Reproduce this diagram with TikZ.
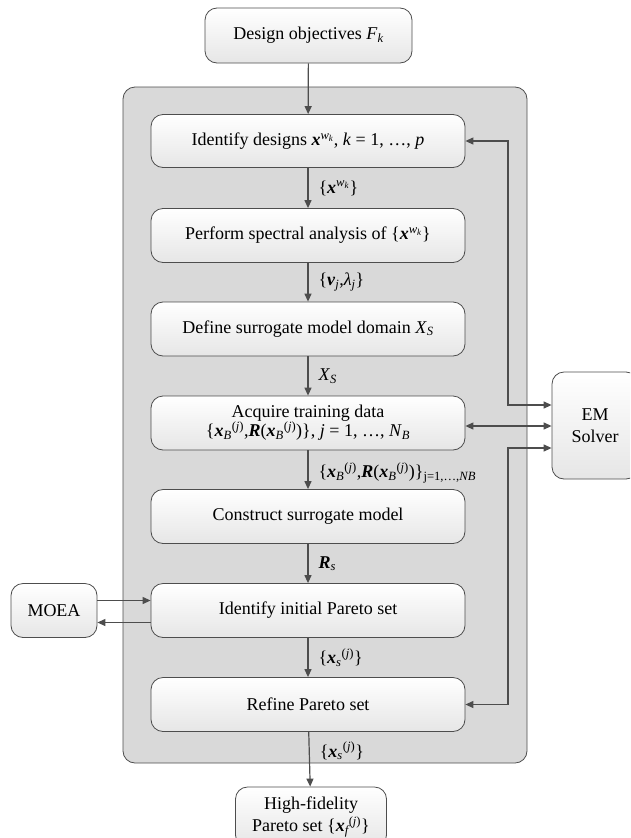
\documentclass[tikz,border=0pt]{standalone}
\usepackage{amsmath}
\usepackage{fontspec}
\setmainfont{Liberation Serif}
\usetikzlibrary{arrows.meta}
\definecolor{linec}{HTML}{4D4D4D}
\definecolor{framefill}{HTML}{D9D9D9}
\definecolor{boxbot}{HTML}{E6E6E6}
\newcommand{\vb}[1]{\textbf{\textit{#1}}}
\newcommand{\vi}[1]{\textit{#1}}
\newcommand{\supj}{{}^{\text{(}\textit{j}\text{)}}}
\tikzset{
  box/.style={draw=linec, line width=0.8pt, rounded corners=12pt, top color=white, bottom color=boxbot,
    align=center, font=\fontsize{18}{21}\selectfont, inner sep=2pt},
  frame/.style={draw=linec, line width=0.8pt, rounded corners=12pt, fill=framefill},
  arr/.style={draw=linec, line width=1.2pt, -{Triangle[length=8pt,width=7pt]}},
  arrboth/.style={draw=linec, line width=1.2pt, {Triangle[length=8pt,width=7pt]}-{Triangle[length=8pt,width=7pt]}},
  lbl/.style={anchor=west, inner sep=0pt, xshift=10pt, font=\fontsize{18}{21}\selectfont}
}
\begin{document}
\begin{tikzpicture}[x=1pt,y=-1pt]
\path[use as bounding box] (0,0) rectangle (630,838);
\clip (0,0) rectangle (630,838);
\node[frame, minimum width=404pt, minimum height=676pt] (frm) at (325,425) {};
\node[box, minimum width=207pt, minimum height=55pt] (des) at (308.5,35.5) {Design objectives \vi{F}$_{\vi{k}}$};
\node[box, minimum width=314pt, minimum height=53pt] (idd) at (308,141) {Identify designs $\vb{x}^{\vi{w}_{\vi{k}}}$, \vi{k} = 1, …, \vi{p}};
\node[box, minimum width=314pt, minimum height=54pt] (perf) at (308,235.5) {Perform spectral analysis of \{$\vb{x}^{\vi{w}_{\vi{k}}}$\}};
\node[box, minimum width=314pt, minimum height=54pt] (def) at (308,329) {Define surrogate model domain \vi{X}$_{\vi{S}}$};
\node[box, minimum width=314pt, minimum height=54pt] (acq) at (308,423) {Acquire training data\\[-2pt]
  \{$\vb{x}_{\vi{B}}\supj$,\vb{R}($\vb{x}_{\vi{B}}\supj$)\}, \vi{j} = 1, …, \vi{N}$_{\vi{B}}$};
\node[box, minimum width=314pt, minimum height=54pt] (cons) at (308,516.5) {Construct surrogate model};
\node[box, minimum width=314pt, minimum height=54pt] (init) at (308,610.5) {Identify initial Pareto set};
\node[box, minimum width=314pt, minimum height=54pt] (ref) at (308,704.5) {Refine Pareto set};
\node[box, minimum width=151pt, minimum height=60pt] (hf) at (311,817) {High-fidelity\\[1pt] Pareto set \{$\vb{x}_{\vi{f}}\supj$\}};
\node[box, minimum width=86pt, minimum height=54pt] (moea) at (54,610.5) {MOEA};
\node[box, minimum width=86pt, minimum height=107pt] (em) at (595,425.5) {EM\\[1pt] Solver};
\coordinate (k1) at (508,405);
\coordinate (k3) at (508,448);
\draw[arr] (des) -- (idd);
\draw[arr] (idd) -- node[lbl] {\{$\vb{x}^{\vi{w}_{\vi{k}}}$\}} (perf);
\draw[arr] (perf) -- node[lbl] {\{$\vb{v}_{\vi{j}}$,\vi{λ}$_{\vi{j}}$\}} (def);
\draw[arr] (def) -- node[lbl] {\vi{X}$_{\vi{S}}$} (acq);
\draw[arr] (acq) -- node[lbl, yshift=-3pt] {\{$\vb{x}_{\vi{B}}\supj$,\vb{R}($\vb{x}_{\vi{B}}\supj$)\}$_{\text{j=1,…,}\textit{NB}}$} (cons);
\draw[arr] (cons) -- node[lbl] {$\vb{R}_{\vi{s}}$} (init);
\draw[arr] (init) -- node[lbl] {\{$\vb{x}_{\vi{s}}\supj$\}} (ref);
\draw[arr] (ref) -- node[lbl, pos=0.35] {\{$\vb{x}_{\vi{s}}\supj$\}} (hf);
\draw[arr] ([yshift=10pt]moea.east) -- ([yshift=10pt]moea.east -| init.west);
\draw[arr] ([yshift=-12pt]init.west) -- ([yshift=-12pt]init.west -| moea.east);
\draw[arrboth] (idd.east) -| (k1) -- (k1 -| em.west);
\draw[arrboth] ([yshift=-3pt]acq.east) -- ([yshift=-3pt]acq.east -| em.west);
\draw[arrboth] (ref.east) -| (k3) -- (k3 -| em.west);
\end{tikzpicture}
\end{document}
